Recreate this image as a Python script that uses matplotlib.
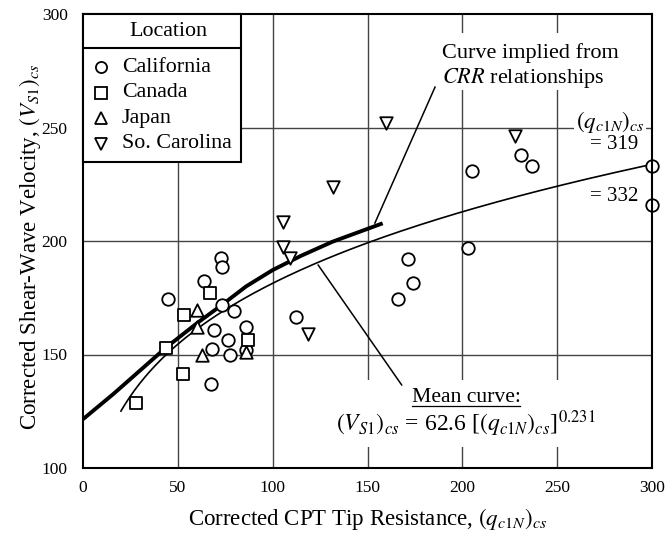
import numpy as np
import matplotlib
matplotlib.use("Agg")
import matplotlib.pyplot as plt
from matplotlib.lines import Line2D
from matplotlib.patches import Rectangle

plt.rcParams['font.family'] = ['Liberation Serif', 'DejaVu Serif']
plt.rcParams['mathtext.fontset'] = 'stix'

# ---- data ----
cal_q = [72.5, 73.3, 63.8, 44.6, 73.3, 79.5, 69.1, 86.1, 76.3, 68.2, 77.4, 85.8, 67.7,
         112.1, 205.1, 230.9, 236.7, 202.8, 171.2, 173.9, 166.0, 319, 332]
cal_v = [192.3, 188.4, 182.3, 174.5, 171.7, 169.2, 160.9, 161.9, 156.2, 152.5, 149.9, 152.2, 137.0,
         166.7, 230.7, 238.0, 232.9, 196.8, 191.9, 181.6, 174.6, 233.2, 215.9]
can_q = [67.2, 53.3, 87.0, 43.7, 52.5, 28.2]
can_v = [176.9, 167.6, 156.6, 153.0, 141.5, 128.5]
jap_q = [60.2, 60.2, 63.0, 85.8]
jap_v = [169.8, 162.1, 149.6, 151.0]
sc_q = [105.4, 105.4, 109.0, 118.6, 131.7, 159.5, 227.9]
sc_v = [208.5, 197.5, 192.3, 159.2, 224.0, 252.0, 246.1]

crr_q = [0, 16, 30, 43.7, 59.8, 73, 86, 100, 115, 131.6, 158]
crr_v = [121.5, 132.6, 142.9, 153.0, 163.6, 171.7, 180.0, 187.2, 193.5, 199.7, 207.8]

mean_a, mean_b = 62.6, 0.231
mean_q = np.linspace(20, 300, 200)
mean_v = mean_a * mean_q ** mean_b

locations = ['California', 'Canada', 'Japan', 'So. Carolina']
markers = ['o', 's', '^', 'v']

xticks = [0, 50, 100, 150, 200, 250, 300]
yticks = [100, 150, 200, 250, 300]

# ---- figure ----
W, H = 665, 540
fig = plt.figure(figsize=(W / 100, H / 100), dpi=100)
L, R, T, B = 83, 652, 14, 468
ax = fig.add_axes([L / W, 1 - B / H, (R - L) / W, (B - T) / H])
ax.set_xlim(0, 300)
ax.set_ylim(100, 300)
ax.set_xticks(xticks)
ax.set_yticks(yticks)
ax.tick_params(length=0, labelsize=12.5)
ax.tick_params(axis='x', pad=9)
ax.tick_params(axis='y', pad=11)
for s in ax.spines.values():
    s.set_linewidth(1.5)
    s.set_zorder(6)
for gx in xticks[1:-1]:
    ax.axvline(gx, color='#444444', lw=1.0, zorder=0)
for gy in yticks[1:-1]:
    ax.axhline(gy, color='#444444', lw=1.0, zorder=0)

ax.set_xlabel(r'Corrected CPT Tip Resistance, $(q_{c1N})_{cs}$', fontsize=16.5, labelpad=7)
ax.set_ylabel(r'Corrected Shear-Wave Velocity, $(V_{S1})_{cs}$', fontsize=16.5)
ax.yaxis.set_label_coords(-0.07, 0.487)

# curves
ax.plot(crr_q, crr_v, color='black', lw=2.8, zorder=3, solid_capstyle='butt')
ax.plot(mean_q, mean_v, color='black', lw=1.2, zorder=3)

ms = 9
mk = dict(facecolor='white', edgecolor='black', linewidths=1.3, s=ms**2, zorder=4, clip_on=False)
series = [(np.minimum(cal_q, 300), cal_v), (can_q, can_v), (jap_q, jap_v), (sc_q, sc_v)]
for (q, v), m, lab in zip(series, markers, locations):
    ax.scatter(q, v, marker=m, label=lab, **mk)

# ---- manual legend (axes coords) ----
def ax_x(px):
    return (px - L) / (R - L)

def ax_y(py):
    return 1 - (py - T) / (B - T)

lx0, lx1 = ax_x(L), ax_x(241)
ly0 = ax_y(162)
ax.add_patch(Rectangle((lx0, ly0), lx1 - lx0, 1 - ly0, transform=ax.transAxes,
                       facecolor='white', edgecolor='black', lw=1.5, zorder=7, clip_on=False))
ax.plot([lx0, lx1], [ax_y(47.7)] * 2, transform=ax.transAxes, color='black', lw=1.5,
        zorder=8, clip_on=False)
ax.text(ax_x(168), ax_y(31.5), 'Location', transform=ax.transAxes, fontsize=15.8,
        ha='center', va='center', zorder=8)
for i, (m, lab) in enumerate(zip(markers, locations)):
    yy = ax_y(67 + 25.5 * i)
    ax.plot([ax_x(100.7)], [yy], marker=m, ms=8, mfc='white', mec='black', mew=1.3,
            transform=ax.transAxes, zorder=8, clip_on=False)
    ax.text(ax_x(121.7), yy, lab, transform=ax.transAxes, fontsize=15.8,
            ha='left', va='center', zorder=8)

# white gaps in the grid behind the annotations
ax.add_patch(Rectangle((ax_x(442), ax_y(90)), ax_x(620) - ax_x(442), ax_y(33) - ax_y(90),
                       transform=ax.transAxes, facecolor='white', edgecolor='none', zorder=1))
ax.add_patch(Rectangle((ax_x(335), ax_y(447)), ax_x(602) - ax_x(335), ax_y(380) - ax_y(447),
                       transform=ax.transAxes, facecolor='white', edgecolor='none', zorder=1))

# CRR annotation
ax.text(189.2, 282.8, 'Curve implied from', fontsize=16, ha='left', va='center', zorder=5)
ax.text(189.2, 271.6, r'$\mathit{CRR}$ relationships', fontsize=16, ha='left', va='center', zorder=5)
ax.plot([185.6, 153.9], [267.8, 207.9], color='black', lw=1.1, zorder=3)

# Mean curve annotation
t_mean = ax.text(202, 131.0, 'Mean curve:', fontsize=15.6, ha='center', va='center', zorder=5)
ax.text(202, 119.6, r'$(V_{S1})_{cs}$ = 62.6 [$(q_{c1N})_{cs}$]$^{0.231}$', fontsize=17,
        ha='center', va='center', zorder=5)
ax.plot([124, 168], [189.4, 136.6], color='black', lw=1.1, zorder=3)

# off-scale labels
ax.text(277.8, 252.3, r'$(q_{c1N})_{cs}$', fontsize=16.5, ha='center', va='center',
        bbox=dict(facecolor='white', edgecolor='none', pad=1), zorder=5)
ax.text(292.6, 242.3, '= 319', fontsize=15, ha='right', va='center', zorder=5)
ax.text(292.6, 219.4, '= 332', fontsize=15, ha='right', va='center', zorder=5)

fig.canvas.draw()
r = fig.canvas.get_renderer()
# underline "Mean curve:"
mb = t_mean.get_window_extent(r)
fig.add_artist(Line2D([mb.x0 / fig.bbox.width, (mb.x1 - 1) / fig.bbox.width],
                      [(mb.y0 + 1.5) / fig.bbox.height] * 2, transform=fig.transFigure,
                      color='black', lw=0.9, zorder=10))

fig.savefig('out.png', dpi=100)
